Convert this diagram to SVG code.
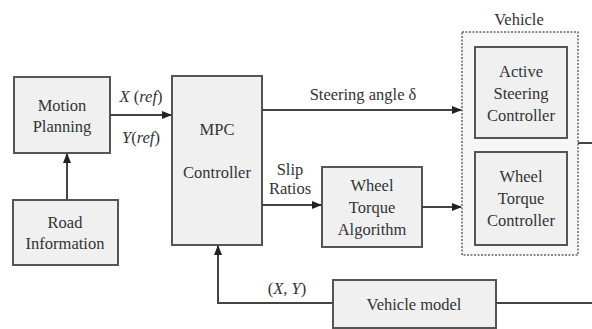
<svg xmlns="http://www.w3.org/2000/svg" width="592" height="329" viewBox="0 0 592 329">
<style>
.box{fill:#f0f0f0;stroke:#555;stroke-width:2}
.vbox{fill:#f7f7f7;stroke:#666;stroke-width:1.5;stroke-dasharray:2 1.5}
.ln{fill:none;stroke:#444;stroke-width:2}
text{font-family:'Liberation Serif','Times New Roman',Times,'DejaVu Serif',serif;font-size:16.5px;fill:#333;text-anchor:middle}
.it{font-style:italic}
</style>
<defs>
<marker id="ah" markerWidth="10" markerHeight="8" refX="9" refY="4" orient="auto" markerUnits="userSpaceOnUse">
<path d="M0,0 L10,4 L0,8 Z" fill="#222"/>
</marker>
</defs>
<rect width="592" height="329" fill="#fff"/>
<g id="vehicle">
<rect class="vbox" x="462" y="32" width="116" height="223"/>
<text x="519" y="25" font-size="15">Vehicle</text>
</g>
<g id="motion-planning">
<rect class="box" x="14" y="77" width="96" height="76"/>
<text x="62" y="111">Motion</text>
<text x="62" y="132">Planning</text>
</g>
<g id="road-information">
<rect class="box" x="13" y="200" width="105" height="65"/>
<text x="65" y="228">Road</text>
<text x="65" y="249">Information</text>
</g>
<g id="mpc-controller">
<rect class="box" x="172" y="76" width="90" height="169"/>
<text x="217" y="135">MPC</text>
<text x="217" y="178">Controller</text>
</g>
<g id="wheel-torque-algorithm">
<rect class="box" x="322" y="167" width="100" height="80"/>
<text x="372" y="191">Wheel</text>
<text x="372" y="213">Torque</text>
<text x="372" y="235">Algorithm</text>
</g>
<g id="active-steering-controller">
<rect class="box" x="475" y="47" width="92" height="91"/>
<text x="521" y="77">Active</text>
<text x="521" y="99">Steering</text>
<text x="521" y="121">Controller</text>
</g>
<g id="wheel-torque-controller">
<rect class="box" x="475" y="152" width="92" height="93"/>
<text x="521" y="182">Wheel</text>
<text x="521" y="204">Torque</text>
<text x="521" y="226">Controller</text>
</g>
<g id="vehicle-model">
<rect class="box" x="333" y="280" width="163" height="48"/>
<text x="414" y="310">Vehicle model</text>
</g>
<g id="connectors">
<path class="ln" d="M67,200 V154" marker-end="url(#ah)"/>
<path class="ln" d="M110,115 H171" marker-end="url(#ah)"/>
<path class="ln" d="M262,110 H461" marker-end="url(#ah)"/>
<path class="ln" d="M262,205 H321" marker-end="url(#ah)"/>
<path class="ln" d="M422,207 H461" marker-end="url(#ah)"/>
<path class="ln" d="M578,143 H592"/>
<path class="ln" d="M496,303 H592"/>
<path class="ln" d="M333,303 H218 V246" marker-end="url(#ah)"/>
<text x="141" y="102"><tspan class="it">X</tspan> (<tspan class="it">ref</tspan>)</text>
<text x="141" y="143"><tspan class="it">Y</tspan>(<tspan class="it">ref</tspan>)</text>
<text x="363" y="100">Steering angle δ</text>
<text x="290" y="175">Slip</text>
<text x="290" y="194">Ratios</text>
<text x="287" y="294">(<tspan class="it">X</tspan>, <tspan class="it">Y</tspan>)</text>
</g>
</svg>
